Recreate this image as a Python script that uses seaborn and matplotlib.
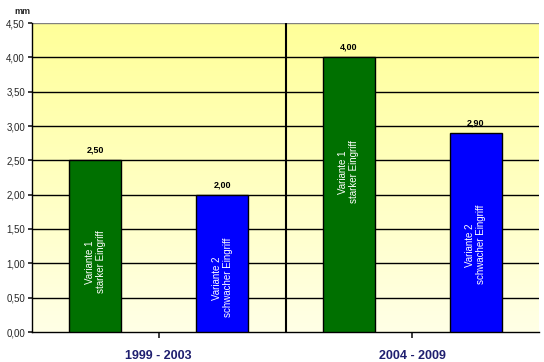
import numpy as np
import pandas as pd
import matplotlib
matplotlib.use("Agg")
import matplotlib.pyplot as plt
from matplotlib.colors import LinearSegmentedColormap
from matplotlib.ticker import FuncFormatter
import seaborn as sns

# data
periods = ["1999 - 2003", "1999 - 2003", "2004 - 2009", "2004 - 2009"]
variants = ["Variante 1", "Variante 2", "Variante 1", "Variante 2"]
values = [2.50, 2.00, 4.00, 2.90]
inner_labels = ["Variante 1\nstarker Eingriff", "Variante 2\nschwacher Eingriff",
                "Variante 1\nstarker Eingriff", "Variante 2\nschwacher Eingriff"]
inner_y = [1.02, 0.79, 2.33, 1.27]

df = pd.DataFrame({"period": periods, "variant": variants, "value": values})

sns.set_theme(style="white")
plt.rcParams["font.family"] = ["Liberation Sans", "DejaVu Sans"]

fig = plt.figure(figsize=(5.44, 3.62), dpi=100)
ax = fig.add_axes([32 / 544, 30 / 362, 507 / 544, 309 / 362])

# yellow gradient background
grad = np.linspace(0, 1, 256).reshape(-1, 1)
cmap = LinearSegmentedColormap.from_list("bg", ["#FFFFE6", "#FFFF99"])
ax.imshow(grad, extent=[-0.5, 1.5, 0, 4.5], origin="lower", cmap=cmap,
          aspect="auto", zorder=0)

sns.barplot(data=df, x="period", y="value", hue="variant",
            palette={"Variante 1": "#007000", "Variante 2": "#0000FF"},
            saturation=1, width=1.0, gap=0.59, edgecolor="black", linewidth=1,
            legend=False, ax=ax, zorder=3)

ax.set_xlim(-0.5, 1.5)
ax.set_ylim(0, 4.5)
ax.set_yticks(np.arange(0, 4.51, 0.5))
ax.yaxis.set_major_formatter(FuncFormatter(lambda v, p: f"{v:.2f}".replace(".", ",")))

for y in np.arange(0.5, 4.01, 0.5):
    ax.axhline(y, color="black", lw=1, zorder=1)
ax.axhline(4.5, color="#808080", lw=1, zorder=1)
ax.axvline(0.5, color="black", lw=1.5, zorder=2)

# value labels and inner labels
for patch, v, lab, iy in zip(
        sorted(ax.patches, key=lambda p: p.get_x()), values, inner_labels, inner_y):
    cx = patch.get_x() + patch.get_width() / 2
    ax.text(cx, v + 0.08, f"{v:.2f}".replace(".", ","), ha="center", va="bottom",
            fontsize=6.5, fontweight="bold", color="black", zorder=5)
    ax.text(cx, iy, lab, ha="center", va="center", rotation=90,
            fontsize=7, color="white", zorder=5, linespacing=1.1)

for s in ["top", "right"]:
    ax.spines[s].set_visible(False)
for s in ["left", "bottom"]:
    ax.spines[s].set_color("black")
    ax.spines[s].set_linewidth(1)

ax.set_xlabel("")
ax.set_ylabel("")
ax.tick_params(axis="y", labelsize=7, length=3, direction="out", left=True, pad=2)
ax.tick_params(axis="x", length=4, direction="out", bottom=True, pad=9)
for t in ax.get_xticklabels():
    t.set_fontsize(9)
    t.set_fontweight("bold")
    t.set_color("#1F1F6F")

fig.text(22 / 544, 1 - 11 / 362, "mm", ha="center", va="center",
         fontsize=6.5, fontweight="bold")

fig.savefig("out.png", dpi=100)
